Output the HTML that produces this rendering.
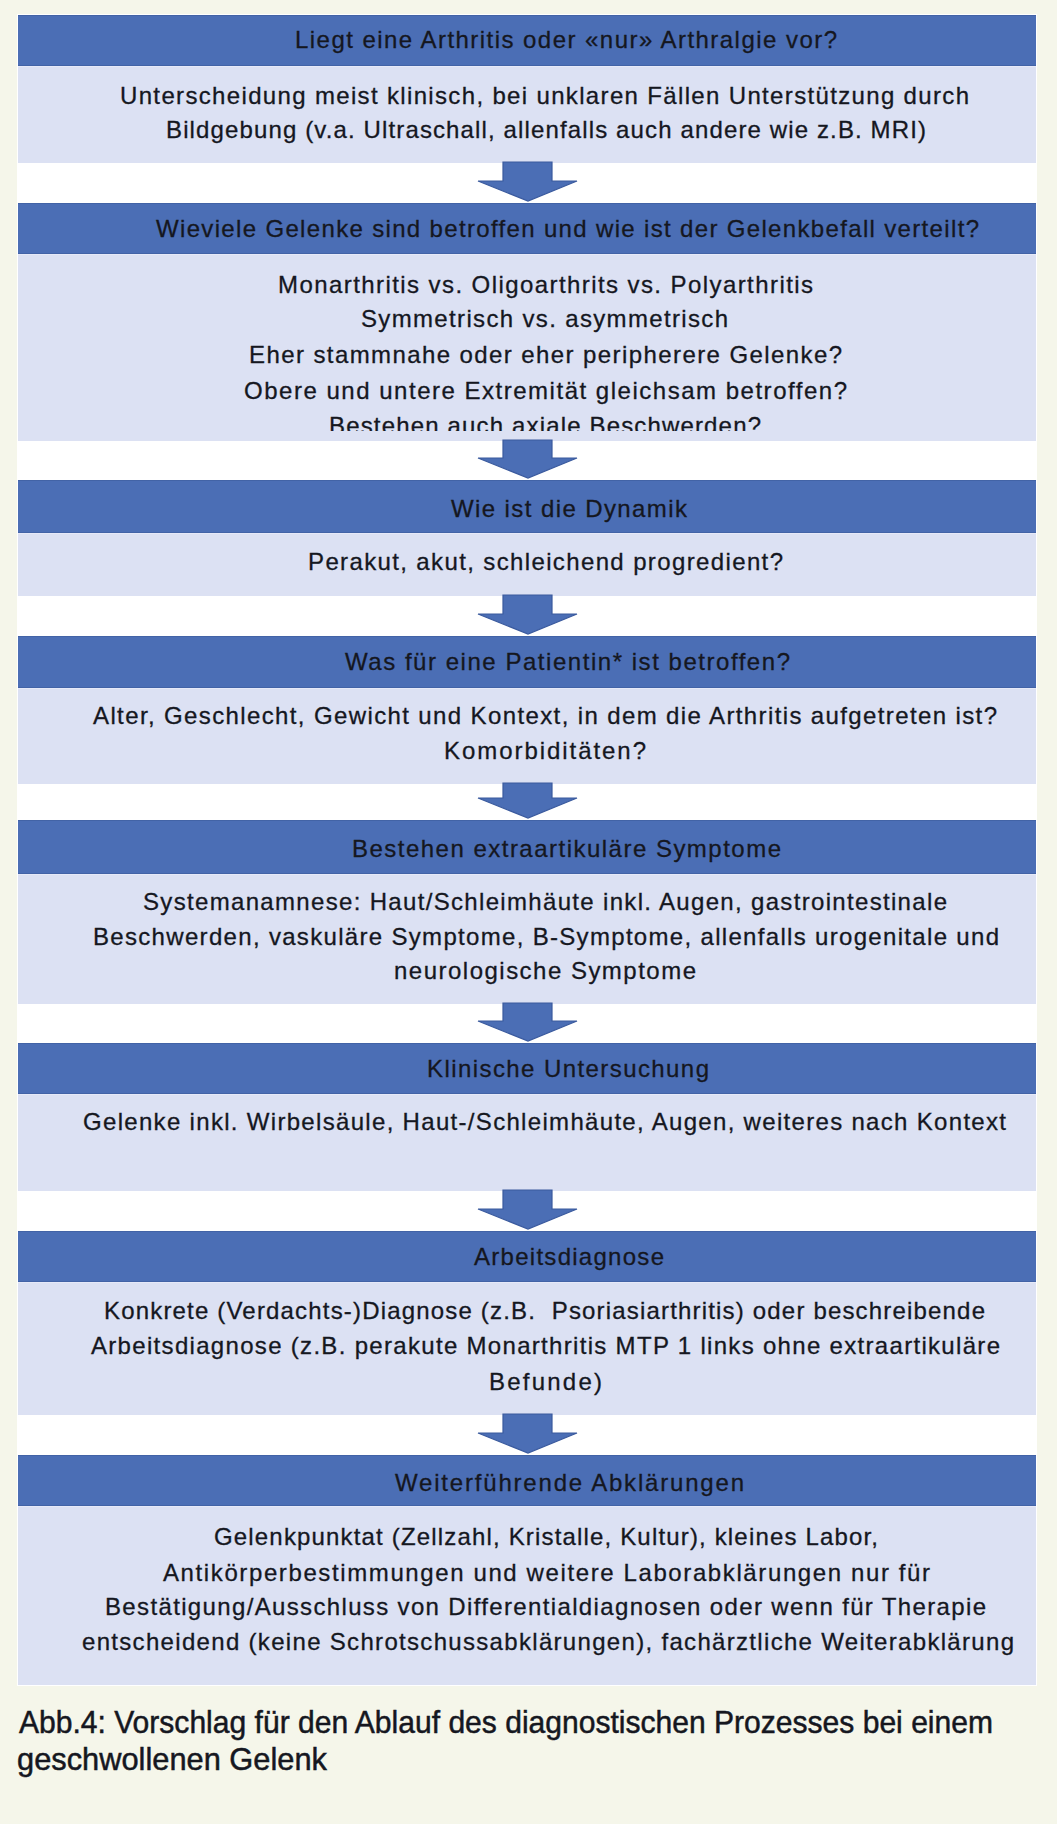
<!DOCTYPE html>
<html><head><meta charset="utf-8"><style>
html,body{margin:0;padding:0;background:#f5f6ea;}
svg{display:block;}
text{font-family:"Liberation Sans",sans-serif;fill:#15171f;stroke:#15171f;stroke-width:0.3px;}
.cap{stroke-width:0.5px;}
.hd text{stroke-width:0.3px;}
</style></head><body>
<svg width="1057" height="1824" viewBox="0 0 1057 1824">
<defs><clipPath id="c2"><rect x="0" y="0" width="1057" height="431"/></clipPath></defs>
<rect x="0" y="0" width="1057" height="1824" fill="#f5f6ea"/>
<rect x="17" y="14" width="1020" height="1672" fill="#ffffff"/>
<rect x="18" y="15" width="1018" height="51" fill="#4b6eb5"/>
<rect x="18" y="66" width="1018" height="97" fill="#dce1f3"/>
<rect x="18" y="15" width="1018" height="1" fill="#4263a6"/>
<rect x="18" y="65" width="1018" height="1" fill="#4263a6"/>
<rect x="18" y="66" width="1018" height="1" fill="#e6e9f8"/>
<rect x="18" y="203" width="1018" height="51" fill="#4b6eb5"/>
<rect x="18" y="254" width="1018" height="187" fill="#dce1f3"/>
<rect x="18" y="203" width="1018" height="1" fill="#4263a6"/>
<rect x="18" y="253" width="1018" height="1" fill="#4263a6"/>
<rect x="18" y="254" width="1018" height="1" fill="#e6e9f8"/>
<rect x="18" y="480" width="1018" height="53" fill="#4b6eb5"/>
<rect x="18" y="533" width="1018" height="63" fill="#dce1f3"/>
<rect x="18" y="480" width="1018" height="1" fill="#4263a6"/>
<rect x="18" y="532" width="1018" height="1" fill="#4263a6"/>
<rect x="18" y="533" width="1018" height="1" fill="#e6e9f8"/>
<rect x="18" y="636" width="1018" height="52" fill="#4b6eb5"/>
<rect x="18" y="688" width="1018" height="96" fill="#dce1f3"/>
<rect x="18" y="636" width="1018" height="1" fill="#4263a6"/>
<rect x="18" y="687" width="1018" height="1" fill="#4263a6"/>
<rect x="18" y="688" width="1018" height="1" fill="#e6e9f8"/>
<rect x="18" y="820" width="1018" height="54" fill="#4b6eb5"/>
<rect x="18" y="874" width="1018" height="130" fill="#dce1f3"/>
<rect x="18" y="820" width="1018" height="1" fill="#4263a6"/>
<rect x="18" y="873" width="1018" height="1" fill="#4263a6"/>
<rect x="18" y="874" width="1018" height="1" fill="#e6e9f8"/>
<rect x="18" y="1043" width="1018" height="51" fill="#4b6eb5"/>
<rect x="18" y="1094" width="1018" height="97" fill="#dce1f3"/>
<rect x="18" y="1043" width="1018" height="1" fill="#4263a6"/>
<rect x="18" y="1093" width="1018" height="1" fill="#4263a6"/>
<rect x="18" y="1094" width="1018" height="1" fill="#e6e9f8"/>
<rect x="18" y="1231" width="1018" height="51" fill="#4b6eb5"/>
<rect x="18" y="1282" width="1018" height="133" fill="#dce1f3"/>
<rect x="18" y="1231" width="1018" height="1" fill="#4263a6"/>
<rect x="18" y="1281" width="1018" height="1" fill="#4263a6"/>
<rect x="18" y="1282" width="1018" height="1" fill="#e6e9f8"/>
<rect x="18" y="1455" width="1018" height="51" fill="#4b6eb5"/>
<rect x="18" y="1506" width="1018" height="179" fill="#dce1f3"/>
<rect x="18" y="1455" width="1018" height="1" fill="#4263a6"/>
<rect x="18" y="1505" width="1018" height="1" fill="#4263a6"/>
<rect x="18" y="1506" width="1018" height="1" fill="#e6e9f8"/>
<polygon points="503,162 552,162 552,181 577,181 528,201 478,181 503,181" fill="#4b6eb5" stroke="#3a5a9e" stroke-width="1.2" stroke-linejoin="miter"/>
<polygon points="503,440 552,440 552,458 577,458 528,478 478,458 503,458" fill="#4b6eb5" stroke="#3a5a9e" stroke-width="1.2" stroke-linejoin="miter"/>
<polygon points="503,595 552,595 552,614 577,614 528,634 478,614 503,614" fill="#4b6eb5" stroke="#3a5a9e" stroke-width="1.2" stroke-linejoin="miter"/>
<polygon points="503,783 552,783 552,798 577,798 528,818 478,798 503,798" fill="#4b6eb5" stroke="#3a5a9e" stroke-width="1.2" stroke-linejoin="miter"/>
<polygon points="503,1003 552,1003 552,1021 577,1021 528,1041 478,1021 503,1021" fill="#4b6eb5" stroke="#3a5a9e" stroke-width="1.2" stroke-linejoin="miter"/>
<polygon points="503,1190 552,1190 552,1209 577,1209 528,1229 478,1209 503,1209" fill="#4b6eb5" stroke="#3a5a9e" stroke-width="1.2" stroke-linejoin="miter"/>
<polygon points="503,1414 552,1414 552,1433 577,1433 528,1453 478,1433 503,1433" fill="#4b6eb5" stroke="#3a5a9e" stroke-width="1.2" stroke-linejoin="miter"/>
<g class="hd"><text transform="scale(1.0,1)" x="295.00" y="48.4" textLength="542.00" lengthAdjust="spacing" font-size="24">Liegt eine Arthritis oder «nur» Arthralgie vor?</text></g>
<g><text transform="scale(1.0,1)" x="120.00" y="104" textLength="849.00" lengthAdjust="spacing" font-size="24">Unterscheidung meist klinisch, bei unklaren Fällen Unterstützung durch</text></g>
<g><text transform="scale(1.0,1)" x="166.00" y="138" textLength="760.00" lengthAdjust="spacing" font-size="24">Bildgebung (v.a. Ultraschall, allenfalls auch andere wie z.B. MRI)</text></g>
<g class="hd"><text transform="scale(1.0,1)" x="156.00" y="237" textLength="823.00" lengthAdjust="spacing" font-size="24">Wieviele Gelenke sind betroffen und wie ist der Gelenkbefall verteilt?</text></g>
<g><text transform="scale(1.0,1)" x="278.00" y="292.7" textLength="535.00" lengthAdjust="spacing" font-size="24">Monarthritis vs. Oligoarthrits vs. Polyarthritis</text></g>
<g><text transform="scale(1.0,1)" x="361.00" y="327" textLength="367.00" lengthAdjust="spacing" font-size="24">Symmetrisch vs. asymmetrisch</text></g>
<g><text transform="scale(1.0,1)" x="249.00" y="363" textLength="593.00" lengthAdjust="spacing" font-size="24">Eher stammnahe oder eher peripherere Gelenke?</text></g>
<g><text transform="scale(1.0,1)" x="244.00" y="399" textLength="603.00" lengthAdjust="spacing" font-size="24">Obere und untere Extremität gleichsam betroffen?</text></g>
<g clip-path="url(#c2)"><text transform="scale(1.0,1)" x="329.00" y="434" textLength="432.00" lengthAdjust="spacing" font-size="24">Bestehen auch axiale Beschwerden?</text></g>
<g class="hd"><text transform="scale(1.0,1)" x="451.00" y="517" textLength="236.00" lengthAdjust="spacing" font-size="24">Wie ist die Dynamik</text></g>
<g><text transform="scale(1.0,1)" x="308.00" y="570" textLength="475.00" lengthAdjust="spacing" font-size="24">Perakut, akut, schleichend progredient?</text></g>
<g class="hd"><text transform="scale(1.0,1)" x="345.00" y="670" textLength="445.00" lengthAdjust="spacing" font-size="24">Was für eine Patientin* ist betroffen?</text></g>
<g><text transform="scale(1.0,1)" x="93.00" y="724" textLength="904.00" lengthAdjust="spacing" font-size="24">Alter, Geschlecht, Gewicht und Kontext, in dem die Arthritis aufgetreten ist?</text></g>
<g><text transform="scale(1.0,1)" x="444.00" y="759" textLength="202.00" lengthAdjust="spacing" font-size="24">Komorbiditäten?</text></g>
<g class="hd"><text transform="scale(1.0,1)" x="352.00" y="857" textLength="429.00" lengthAdjust="spacing" font-size="24">Bestehen extraartikuläre Symptome</text></g>
<g><text transform="scale(1.0,1)" x="143.00" y="910" textLength="804.00" lengthAdjust="spacing" font-size="24">Systemanamnese: Haut/Schleimhäute inkl. Augen, gastrointestinale</text></g>
<g><text transform="scale(1.0,1)" x="93.00" y="945" textLength="906.00" lengthAdjust="spacing" font-size="24">Beschwerden, vaskuläre Symptome, B-Symptome, allenfalls urogenitale und</text></g>
<g><text transform="scale(1.0,1)" x="394.00" y="979" textLength="302.00" lengthAdjust="spacing" font-size="24">neurologische Symptome</text></g>
<g class="hd"><text transform="scale(1.0,1)" x="427.00" y="1077" textLength="282.00" lengthAdjust="spacing" font-size="24">Klinische Untersuchung</text></g>
<g><text transform="scale(1.0,1)" x="83.00" y="1130" textLength="923.00" lengthAdjust="spacing" font-size="24">Gelenke inkl. Wirbelsäule, Haut-/Schleimhäute, Augen, weiteres nach Kontext</text></g>
<g class="hd"><text transform="scale(1.0,1)" x="474.00" y="1265" textLength="190.00" lengthAdjust="spacing" font-size="24">Arbeitsdiagnose</text></g>
<g><text transform="scale(1.0,1)" x="104.00" y="1319" textLength="881.00" lengthAdjust="spacing" font-size="24">Konkrete (Verdachts-)Diagnose (z.B.  Psoriasiarthritis) oder beschreibende</text></g>
<g><text transform="scale(1.0,1)" x="91.00" y="1354" textLength="909.00" lengthAdjust="spacing" font-size="24">Arbeitsdiagnose (z.B. perakute Monarthritis MTP 1 links ohne extraartikuläre</text></g>
<g><text transform="scale(1.0,1)" x="489.00" y="1390" textLength="113.00" lengthAdjust="spacing" font-size="24">Befunde)</text></g>
<g class="hd"><text transform="scale(1.0,1)" x="395.00" y="1491" textLength="349.00" lengthAdjust="spacing" font-size="24">Weiterführende Abklärungen</text></g>
<g><text transform="scale(1.0,1)" x="214.00" y="1545" textLength="664.00" lengthAdjust="spacing" font-size="24">Gelenkpunktat (Zellzahl, Kristalle, Kultur), kleines Labor,</text></g>
<g><text transform="scale(1.0,1)" x="163.00" y="1581" textLength="767.00" lengthAdjust="spacing" font-size="24">Antikörperbestimmungen und weitere Laborabklärungen nur für</text></g>
<g><text transform="scale(1.0,1)" x="105.00" y="1615" textLength="881.00" lengthAdjust="spacing" font-size="24">Bestätigung/Ausschluss von Differentialdiagnosen oder wenn für Therapie</text></g>
<g><text transform="scale(1.0,1)" x="82.00" y="1650" textLength="932.00" lengthAdjust="spacing" font-size="24">entscheidend (keine Schrotschussabklärungen), fachärztliche Weiterabklärung</text></g>
<text x="19" y="1732.5" textLength="974" lengthAdjust="spacingAndGlyphs" font-size="31.5" class="cap">Abb.4: Vorschlag für den Ablauf des diagnostischen Prozesses bei einem</text>
<text x="17" y="1770" textLength="310" lengthAdjust="spacingAndGlyphs" font-size="31.5" class="cap">geschwollenen Gelenk</text>
</svg>
</body></html>
